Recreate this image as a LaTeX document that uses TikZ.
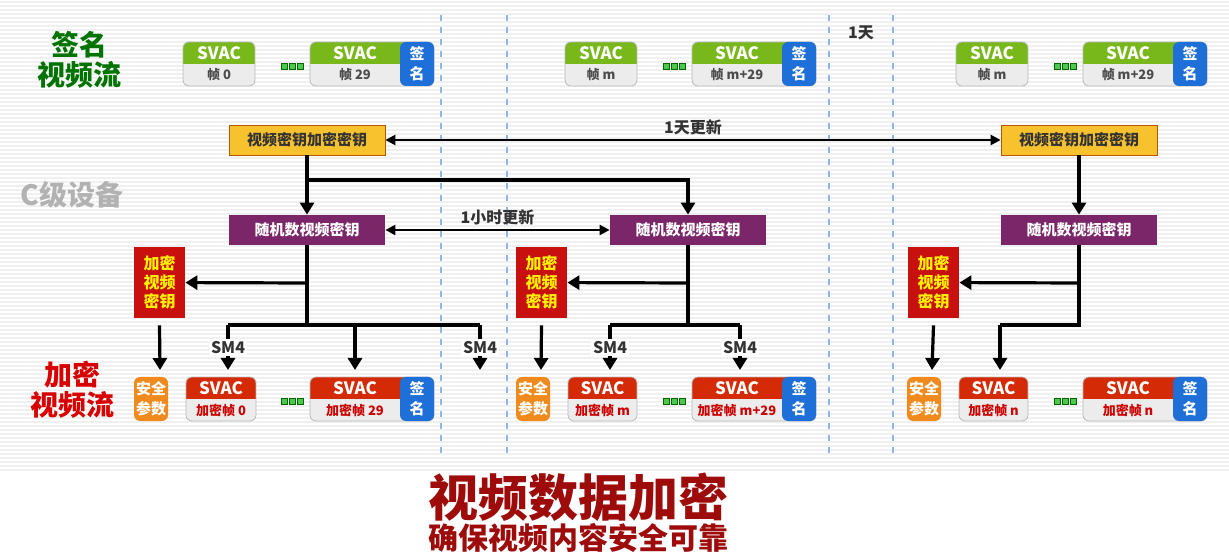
\documentclass[tikz,border=0pt]{standalone}
\usepackage{fontspec}
\setmainfont{Noto Sans CJK SC}
\usetikzlibrary{arrows.meta,positioning}

\definecolor{svgreen}{HTML}{78B81A}
\definecolor{svred}{HTML}{D42A06}
\definecolor{svblue}{HTML}{1F6FD8}
\definecolor{svorange}{HTML}{F08A1C}
\definecolor{keyyellow}{HTML}{F7C22E}
\definecolor{keypurple}{HTML}{7B2668}
\definecolor{keyred}{HTML}{C8100E}
\definecolor{titlered}{HTML}{9E0B0B}

% one frame block: name, left x, top y, width, head colour, label, label colour, text width
\newcommand{\frameblk}[8]{
  \begin{scope}
    \clip[rounded corners=3pt] (#2,#3) rectangle ++(#4,44);
    \fill[#5] (#2,#3) rectangle ++(#4,22);
    \fill[gray!15] (#2,#3+22) rectangle ++(#4,22);
  \end{scope}
  \draw[gray!55,rounded corners=3pt] (#2,#3) rectangle ++(#4,44);
  \node[font=\bfseries\fontsize{8.5}{9}\selectfont,white] (#1) at (#2+#8/2,#3+11) {SVAC};
  \node[font=\bfseries\fontsize{6.5}{7}\selectfont,#7] at (#2+#8/2,#3+33) {#6};
}
% side block: left x, top y, colour, two lines
\newcommand{\sideblk}[5]{
  \fill[#3,rounded corners=3pt] (#1,#2) rectangle ++(34,44);
  \node[font=\bfseries\fontsize{7.5}{10}\selectfont,white,align=center] at (#1+17,#2+22) {#4\\#5};
}
\newcommand{\gapdots}[2]{
  \foreach \k in {0,1,2}
    \draw[fill=green!70!black!70,draw=green!40!black] (#1+\k*8,#2-3) rectangle ++(6,6);
}

\begin{document}
\begin{tikzpicture}[x=0.5pt,y=-0.5pt,
    key/.style={minimum width=78pt,minimum height=15pt,inner sep=0pt,
      font=\bfseries\fontsize{7.5}{8}\selectfont},
    redkey/.style={fill=keyred,text=yellow,minimum width=25.5pt,minimum height=35.5pt,
      inner sep=0pt,align=center,font=\bfseries\fontsize{8}{9.5}\selectfont},
    line/.style={line width=1.6pt},
    arr/.style={line width=1.6pt,-{Triangle[length=6pt,width=7pt]}},
    darr/.style={line width=1.2pt,{Triangle[length=5pt,width=5pt]}-{Triangle[length=5pt,width=5pt]}},
    lab/.style={font=\bfseries\fontsize{8}{9}\selectfont,text=black!80,fill=white,inner sep=1pt}]
\useasboundingbox (0,0) rectangle (1229,560);
\fill[white] (0,0) rectangle (1229,560);
\foreach \y in {2,6,...,470} \draw[gray!12,line width=0.6pt] (0,\y) -- (1229,\y);
\foreach \x in {441,507,829,893} \draw[dashed,svblue!50,line width=0.7pt] (\x,15) -- (\x,455);

% left labels
\node[font=\bfseries\fontsize{14}{15}\selectfont,text=green!45!black,align=center] (lsig) at (79,60) {签名\\视频流};
\node[font=\bfseries\fontsize{14}{15}\selectfont,text=gray!60] (ldev) at (72,195) {C级设备};
\node[font=\bfseries\fontsize{14}{15}\selectfont,text=red!85!black,align=center] (lenc) at (72,390) {加密\\视频流};

% signed stream
\frameblk{s1}{183}{42}{72}{svgreen}{帧 0}{black!70}{72}
\gapdots{281}{66}
\frameblk{s2}{310}{42}{124}{svgreen}{帧 29}{black!70}{90}
\sideblk{400}{42}{svblue}{签}{名}
\frameblk{s3}{565}{42}{72}{svgreen}{帧 m}{black!70}{72}
\gapdots{663}{66}
\frameblk{s4}{692}{42}{124}{svgreen}{帧 m+29}{black!70}{90}
\sideblk{782}{42}{svblue}{签}{名}
\frameblk{s5}{956}{42}{72}{svgreen}{帧 m}{black!70}{72}
\gapdots{1054}{66}
\frameblk{s6}{1083}{42}{124}{svgreen}{帧 m+29}{black!70}{90}
\sideblk{1173}{42}{svblue}{签}{名}
\node[lab,fill=none] (day) at (861,33) {1天};

% keys
\node[key,fill=keyyellow,draw=orange!70!black,text=black!80] (y1) at (307,140) {视频密钥加密密钥};
\node[key,fill=keyyellow,draw=orange!70!black,text=black!80] (y2) at (1079,140) {视频密钥加密密钥};
\node[key,fill=keypurple,text=white] (p1) at (307,230) {随机数视频密钥};
\node[key,fill=keypurple,text=white] (p2) at (688,230) {随机数视频密钥};
\node[key,fill=keypurple,text=white] (p3) at (1079,230) {随机数视频密钥};
\node[redkey] (r1) at (159.5,282.5) {加密\\视频\\密钥};
\node[redkey] (r2) at (541.5,282.5) {加密\\视频\\密钥};
\node[redkey] (r3) at (933.5,282.5) {加密\\视频\\密钥};

\draw[darr] (y1) -- node[lab,above=1pt,fill=none] {1天更新} (y2);
\draw[darr] (p1) -- node[lab,above=1pt,fill=none] {1小时更新} (p2);
\draw[arr] (y1) -- (p1);
\draw[arr] (y1.south) |- (498,180) -| (p2.north);
\draw[arr] (y2) -- (p3);

% encrypted stream
\sideblk{134}{377}{svorange}{安全}{参数}
\frameblk{e1}{186}{377}{70}{svred}{加密帧 0}{red!80!black}{70}
\gapdots{281}{401}
\frameblk{e2}{310}{377}{124}{svred}{加密帧 29}{red!80!black}{90}
\sideblk{400}{377}{svblue}{签}{名}
\sideblk{516}{377}{svorange}{安全}{参数}
\frameblk{e3}{568}{377}{69}{svred}{加密帧 m}{red!80!black}{69}
\gapdots{663}{401}
\frameblk{e4}{692}{377}{124}{svred}{加密帧 m+29}{red!80!black}{90}
\sideblk{782}{377}{svblue}{签}{名}
\sideblk{907}{377}{svorange}{安全}{参数}
\frameblk{e5}{959}{377}{69}{svred}{加密帧 n}{red!80!black}{69}
\gapdots{1054}{401}
\frameblk{e6}{1083}{377}{124}{svred}{加密帧 n}{red!80!black}{90}
\sideblk{1173}{377}{svblue}{签}{名}

% SM4 branches
\draw[line] (p1.south) -- (307,325);
\draw[arr] (307,283) -- (r1);
\draw[line] (228,325) -- (480,325);
\draw[arr] (228,325) -- node[lab]{SM4} (228,370);
\draw[arr] (355,325) -- (355,370);
\draw[arr] (480,325) -- node[lab]{SM4} (480,370);
\draw[arr] (r1.south) ++(0,7) -- (160,370);

\draw[line] (p2.south) -- (688,325);
\draw[arr] (688,283) -- (r2);
\draw[line] (610,325) -- (740,325);
\draw[arr] (610,325) -- node[lab]{SM4} (610,370);
\draw[arr] (740,325) -- node[lab]{SM4} (740,370);
\draw[arr] (r2.south) ++(0,7) -- (541,370);

\draw[line] (p3.south) -- (1079,325) -- (1000,325);
\draw[arr] (1079,283) -- (r3);
\draw[arr] (1000,325) -- (1000,370);
\draw[arr] (r3.south) ++(0,7) -- (932,370);

% title
\node[font=\bfseries\fontsize{25}{26}\selectfont,text=titlered] (t1) at (578,497) {视频数据加密};
\node[font=\bfseries\fontsize{15}{16}\selectfont,text=titlered] (t2) at (578,538) {确保视频内容安全可靠};
\end{tikzpicture}
\end{document}
